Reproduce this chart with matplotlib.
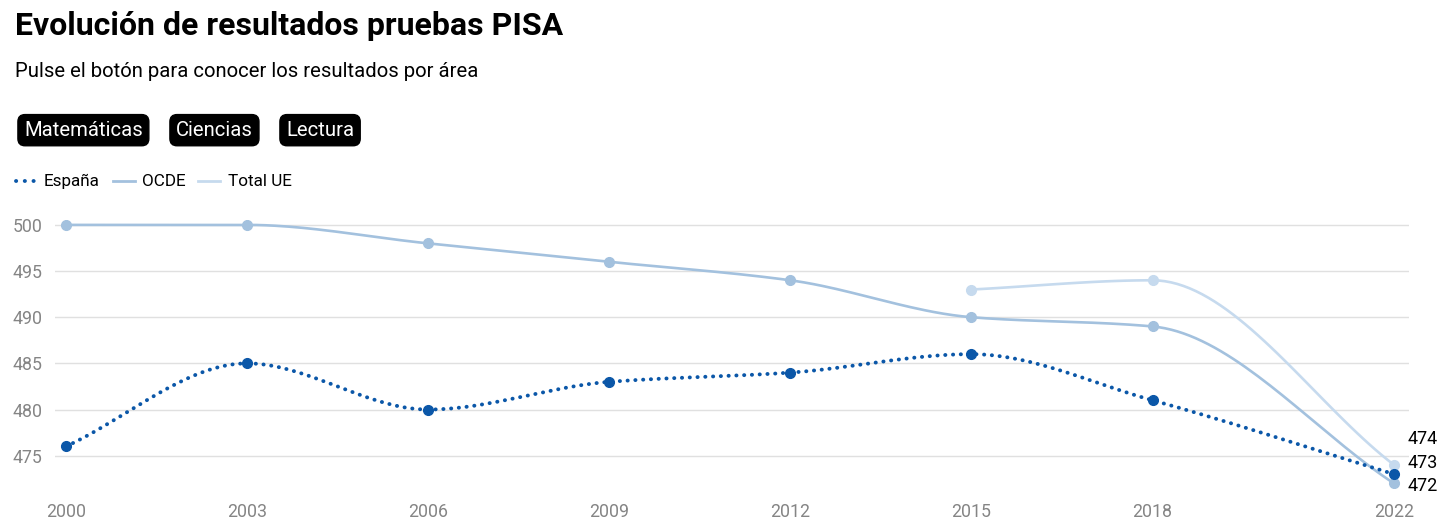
import numpy as np
import matplotlib.pyplot as plt
from matplotlib.lines import Line2D

plt.rcParams['font.family'] = ['Roboto', 'DejaVu Sans']

# Data
years = [2000, 2003, 2006, 2009, 2012, 2015, 2018, 2022]
espana = [476, 485, 480, 483, 484, 486, 481, 473]
ocde = [500, 500, 498, 496, 494, 490, 489, 472]
ue_years = [2015, 2018, 2022]
total_ue = [493, 494, 474]

y_ticks = [475, 480, 485, 490, 495, 500]
x_ticks = years
buttons = ["Matemáticas", "Ciencias", "Lectura"]

c_esp = "#0b57a8"
c_ocde = "#a3c1de"
c_ue = "#c6daee"


def monotone(x, y, n=40):
    # monotone cubic (Fritsch-Carlson), like d3.curveMonotoneX
    x = np.asarray(x, float)
    y = np.asarray(y, float)
    h = np.diff(x)
    s = np.diff(y) / h
    m = np.zeros_like(y)
    m[0], m[-1] = s[0], s[-1]
    for i in range(1, len(x) - 1):
        if s[i - 1] * s[i] <= 0:
            m[i] = 0
        else:
            w1 = 2 * h[i] + h[i - 1]
            w2 = h[i] + 2 * h[i - 1]
            m[i] = (w1 + w2) / (w1 / s[i - 1] + w2 / s[i])
    xs, ys = [], []
    for i in range(len(x) - 1):
        t = np.linspace(0, 1, n)
        h00 = 2 * t**3 - 3 * t**2 + 1
        h10 = t**3 - 2 * t**2 + t
        h01 = -2 * t**3 + 3 * t**2
        h11 = t**3 - t**2
        xs.append(x[i] + t * h[i])
        ys.append(h00 * y[i] + h10 * h[i] * m[i] + h01 * y[i + 1] + h11 * h[i] * m[i + 1])
    return np.concatenate(xs), np.concatenate(ys)


fig = plt.figure(figsize=(14.56, 5.27), dpi=100)
ax = fig.add_axes([0.0378, 0.074, 0.930, 0.508])

xs, ys = monotone(years, ocde)
ax.plot(xs, ys, color=c_ocde, lw=1.9, zorder=2)
ax.plot(years, ocde, "o", color=c_ocde, ms=7, zorder=3)

xs, ys = monotone(ue_years, total_ue)
ax.plot(xs, ys, color=c_ue, lw=1.9, zorder=2)
ax.plot(ue_years, total_ue, "o", color=c_ue, ms=7, zorder=3)

xs, ys = monotone(years, espana)
ax.plot(xs, ys, color=c_esp, lw=2.8, linestyle=(0, (0.05, 1.95)),
        dash_capstyle="round", zorder=4)
ax.plot(years, espana, "o", color=c_esp, ms=7, zorder=5)

# end labels
ax.annotate(str(total_ue[-1]), (years[-1], 474), xytext=(10, 18.5),
            textcoords="offset points", fontsize=13, va="center")
ax.annotate(str(espana[-1]), (years[-1], 473), xytext=(10, 8.3),
            textcoords="offset points", fontsize=13, va="center")
ax.annotate(str(ocde[-1]), (years[-1], 472), xytext=(10, -2),
            textcoords="offset points", fontsize=13, va="center")

ax.set_xlim(1999.82, 2022.25)
ax.set_ylim(471.5, 500.5)
ax.set_yticks(y_ticks)
ax.set_xticks(x_ticks)
ax.grid(axis="y", color="#e0e0e0", lw=1)
ax.set_axisbelow(True)
for sp in ax.spines.values():
    sp.set_visible(False)
ax.tick_params(length=0, labelsize=12.8, colors="#858585")
ax.tick_params(axis="x", pad=11)
ax.tick_params(axis="y", pad=9)

# title and subtitle
fig.text(0.0103, 0.95, "Evolución de resultados pruebas PISA", fontsize=23,
         fontweight="bold", va="center")
fig.text(0.0103, 0.864, "Pulse el botón para conocer los resultados por área",
         fontsize=14.6, va="center")

# buttons
bx = [24 / 1456, 176 / 1456, 286 / 1456]
for x, b in zip(bx, buttons):
    fig.text(x, 0.753, b, fontsize=14.6, color="white", va="center",
             bbox=dict(boxstyle="round,pad=0.3,rounding_size=0.35",
                       fc="black", ec="black"))

# legend
ly = 1 - 181 / 527
fig.add_artist(Line2D([16 / 1456, 36 / 1456], [ly, ly], color=c_esp, lw=2.8,
                      linestyle=(0, (0.05, 2.2)), dash_capstyle="round"))
fig.text(44 / 1456, ly, "España", fontsize=12.3, va="center")
fig.add_artist(Line2D([113 / 1456, 135 / 1456], [ly, ly], color=c_ocde, lw=2))
fig.text(142 / 1456, ly, "OCDE", fontsize=12.3, va="center")
fig.add_artist(Line2D([198 / 1456, 220 / 1456], [ly, ly], color=c_ue, lw=2))
fig.text(228 / 1456, ly, "Total UE", fontsize=12.3, va="center")

fig.savefig("out.png", dpi=100)
